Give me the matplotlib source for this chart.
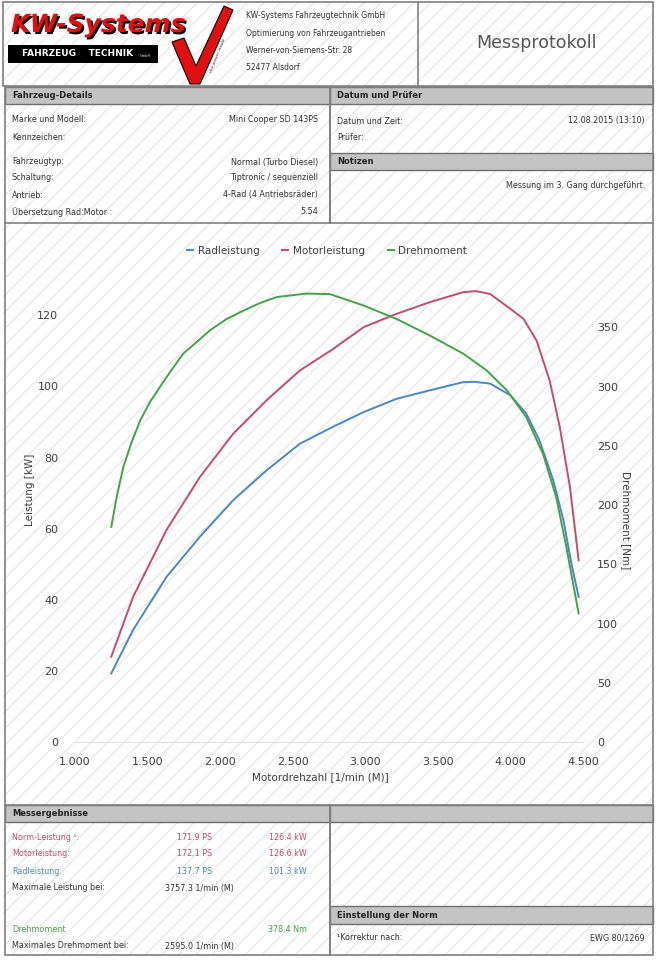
import matplotlib
matplotlib.use('Agg')
import matplotlib.pyplot as plt
from matplotlib.patches import Rectangle, Polygon
from matplotlib.lines import Line2D
import matplotlib.patheffects as pe

plt.rcParams['font.family'] = ['DejaVu Sans']
plt.rcParams['hatch.linewidth'] = 0.9

# curve data read from the protocol
rad_rpm = [1250, 1400, 1630, 1860, 2090, 2320, 2550, 2770, 2990, 3215, 3445,
           3675, 3750, 3860, 4000, 4110, 4200, 4295, 4365, 4420, 4470]
rad_kw = [19.3, 31.5, 46.4, 57.7, 68.0, 76.4, 83.9, 88.5, 92.8, 96.5, 98.9,
          101.2, 101.3, 100.8, 97.5, 92.3, 84.8, 73.6, 62.4, 50.2, 40.8]

mot_rpm = [1250, 1400, 1630, 1860, 2090, 2320, 2550, 2770, 2990, 3215, 3445,
           3675, 3760, 3860, 4000, 4090, 4180, 4270, 4340, 4410, 4470]
mot_kw = [24.0, 40.8, 59.6, 74.5, 86.7, 96.1, 104.5, 110.3, 116.7, 120.4, 123.7,
          126.5, 126.8, 126.0, 121.8, 119.0, 112.9, 101.7, 88.6, 71.7, 51.1]

dreh_rpm = [1250, 1287, 1333, 1390, 1450, 1517, 1585, 1654, 1745, 1838, 1930, 2045,
            2160, 2274, 2390, 2595, 2755, 2985, 3215, 3445, 3675, 3835, 3975,
            4110, 4225, 4315, 4385, 4470]
dreh_nm = [181.5, 206.8, 232, 253, 271.5, 287, 299.6, 312, 327.7, 337.5, 347.4, 357,
           364, 370.4, 375.5, 378.4, 378, 368.5, 357, 343, 327.7, 313.7, 296.8,
           274, 243, 206.8, 164.7, 108.5]

x_ticks = [1000, 1500, 2000, 2500, 3000, 3500, 4000, 4500]
x_labels = ['1.000', '1.500', '2.000', '2.500', '3.000', '3.500', '4.000', '4.500']
kw_ticks = [0, 20, 40, 60, 80, 100, 120]
nm_ticks = [0, 50, 100, 150, 200, 250, 300, 350]

fahrzeug = [('Marke und Modell:', 'Mini Cooper SD 143PS', 120),
            ('Kennzeichen:', '', 137),
            ('Fahrzeugtyp:', 'Normal (Turbo Diesel)', 162),
            ('Schaltung:', 'Tiptronic / sequenziell', 178),
            ('Antrieb:', '4-Rad (4 Antriebsräder)', 195),
            ('Übersetzung Rad:Motor :', '5.54', 212)]

BLUE = '#4a88bd'
RED = '#c24d6e'
GREEN = '#47a04c'
GREY_BAR = '#c4c4c4'
EDGE = '#808080'
TXT = '#333333'

fig = plt.figure(figsize=(6.59, 9.6), dpi=100)
page = fig.add_axes([0, 0, 1, 1])
page.set_xlim(0, 659)
page.set_ylim(960, 0)
page.axis('off')

# faint diagonal watermark
page.add_patch(Rectangle((3, 2), 650, 953, facecolor='white', edgecolor='#e8e8e8',
                         hatch='//', lw=0, zorder=0))


def box(x0, y0, x1, y1):
    page.add_patch(Rectangle((x0, y0), x1 - x0, y1 - y0, fill=False,
                             edgecolor=EDGE, lw=1.2, zorder=3))


def bar(x0, y0, x1, y1, title=''):
    page.add_patch(Rectangle((x0, y0), x1 - x0, y1 - y0, facecolor=GREY_BAR,
                             edgecolor='#6e6e6e', lw=1.0, zorder=2))
    if title:
        page.text(x0 + 7, (y0 + y1) / 2, title, fontsize=6, weight='bold',
                  color='#222222', va='center', zorder=4)


def row(x, y, s, color=TXT, ha='left'):
    page.text(x, y, s, fontsize=5.8, color=color, ha=ha, va='center', zorder=4)


# header
box(3, 2, 653, 86)
page.plot([418, 418], [2, 86], color=EDGE, lw=1.2, zorder=3)
page.text(11, 25, 'KW-Systems', fontsize=18, weight='bold', style='italic',
          color='#e01010', va='center', zorder=5,
          path_effects=[pe.withSimplePatchShadow(offset=(1.5, -1.5), shadow_rgbFace='black', alpha=1)])
page.add_patch(Rectangle((8, 45), 150, 18, facecolor='black', zorder=4))
page.text(22, 54, 'FAHRZEUG    TECHNIK', fontsize=6.5, weight='bold', color='white',
          va='center', zorder=5)
page.text(140, 56, 'GmbH', fontsize=2.5, color='white', va='center', zorder=5)
page.add_patch(Polygon([(172, 42), (184, 38), (196, 66), (224, 6), (233, 10), (200, 84), (190, 84)],
                       closed=True, facecolor='#e01010', edgecolor='black', lw=0.8, zorder=5))
page.text(218, 55, 'the power inside', fontsize=3.2, style='italic', color='#222222',
          rotation=68, ha='center', va='center', zorder=5)

addr = ['KW-Systems Fahrzeugtechnik GmbH', 'Optimierung von Fahrzeugantrieben',
        'Werner-von-Siemens-Str. 28', '52477 Alsdorf']
for i, line in enumerate(addr):
    page.text(246, 16 + i * 17.3, line, fontsize=5.5, color=TXT, va='center', zorder=4)
page.text(537, 43, 'Messprotokoll', fontsize=12.5, color='#555555', ha='center',
          va='center', zorder=4)

# vehicle details / date
box(5, 87, 330, 223)
box(330, 87, 653, 223)
bar(5, 87, 330, 104, 'Fahrzeug-Details')
bar(330, 87, 653, 104, 'Datum und Prüfer')
bar(330, 153, 653, 170, 'Notizen')
for label, value, y in fahrzeug:
    row(12, y, label)
    row(318, y, value, ha='right')
row(337, 121, 'Datum und Zeit:')
row(645, 121, '12.08.2015 (13:10)', ha='right')
row(337, 137, 'Prüfer:')
row(645, 186, 'Messung im 3. Gang durchgeführt.', ha='right')

# chart frame
page.plot([5, 5], [223, 805], color=EDGE, lw=1.2, zorder=3)
page.plot([653, 653], [223, 805], color=EDGE, lw=1.2, zorder=3)

# results
box(5, 805, 330, 955)
box(330, 805, 653, 955)
bar(5, 805, 330, 822, 'Messergebnisse')
bar(330, 805, 653, 822)
bar(330, 906, 653, 924, 'Einstellung der Norm')
row(12, 838, 'Norm-Leistung ¹:', RED)
row(212, 838, '171.9 PS', RED, 'right')
row(307, 838, '126.4 kW', RED, 'right')
row(12, 854, 'Motorleistung:', RED)
row(212, 854, '172.1 PS', RED, 'right')
row(307, 854, '126.6 kW', RED, 'right')
row(12, 871, 'Radleistung:', BLUE)
row(212, 871, '137.7 PS', BLUE, 'right')
row(307, 871, '101.3 kW', BLUE, 'right')
row(12, 888, 'Maximale Leistung bei:')
row(165, 888, '3757.3 1/min (M)')
row(12, 930, 'Drehmoment', GREEN)
row(307, 930, '378.4 Nm', GREEN, 'right')
row(12, 946, 'Maximales Drehmoment bei:')
row(165, 946, '2595.0 1/min (M)')
row(337, 938, '¹Korrektur nach:')
row(645, 938, 'EWG 80/1269', ha='right')

# chart
ax = fig.add_axes([75 / 659, 1 - 742 / 960, (583 - 75) / 659, (742 - 268) / 960])
ax.patch.set_alpha(0)
ax2 = ax.twinx()
ax.set_xlim(1000, 4500)
ax.set_ylim(0, 133.3)
ax2.set_ylim(0, 400)
ax.plot(rad_rpm, rad_kw, color=BLUE, lw=1.4, label='Radleistung')
ax.plot(mot_rpm, mot_kw, color=RED, lw=1.4, label='Motorleistung')
ax2.plot(dreh_rpm, dreh_nm, color=GREEN, lw=1.4, label='Drehmoment')

for a in (ax, ax2):
    for s in a.spines.values():
        s.set_visible(False)
ax.spines['bottom'].set_visible(True)
ax.spines['bottom'].set_color('#e2e2e2')

ax.set_xticks(x_ticks)
ax.set_xticklabels(x_labels)
ax.set_yticks(kw_ticks)
ax2.set_yticks(nm_ticks)
ax.tick_params(axis='x', length=0, pad=11, labelsize=8, labelcolor='#404040')
ax.tick_params(axis='y', length=0, pad=12, labelsize=8, labelcolor='#404040')
ax2.tick_params(axis='y', length=0, pad=10, labelsize=8, labelcolor='#404040')

fig.text(30 / 659, 1 - 490 / 960, 'Leistung [kW]', rotation=90, fontsize=7.5,
         color='#404040', ha='center', va='center')
fig.text(626 / 659, 1 - 520 / 960, 'Drehmoment [Nm]', rotation=-90, fontsize=7.5,
         color='#404040', ha='center', va='center')
fig.text(320 / 659, 1 - 777 / 960, 'Motordrehzahl [1/min (M)]', fontsize=7.5,
         color='#404040', ha='center', va='center')

handles = [Line2D([], [], color=BLUE, lw=1.4), Line2D([], [], color=RED, lw=1.4),
           Line2D([], [], color=GREEN, lw=1.4)]
fig.legend(handles, ['Radleistung', 'Motorleistung', 'Drehmoment'], ncol=3,
           loc='center', bbox_to_anchor=(327 / 659, 1 - 251 / 960), frameon=False,
           fontsize=7.5, handlelength=0.6, handletextpad=0.4, columnspacing=2.2,
           labelcolor='#404040')

fig.savefig('out.png', dpi=100)
